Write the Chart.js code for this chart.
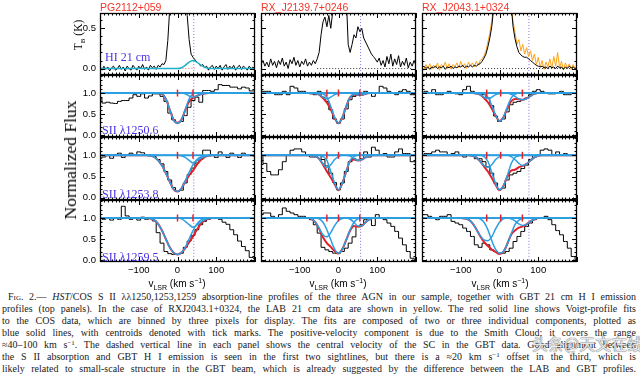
<!DOCTYPE html>
<html>
<head>
<meta charset="utf-8">
<title>S II absorption and 21 cm emission</title>
<script src="https://cdn.jsdelivr.net/npm/chart.js@4.4.1/dist/chart.umd.min.js"></script>
<style>
  html, body { margin: 0; padding: 0; background: #fff; }
  #fig { position: relative; width: 640px; height: 380px; overflow: hidden; font-family: "Liberation Sans", Arial, sans-serif; }
  #fig canvas { position: absolute; }
  .lbl { position: absolute; white-space: nowrap; line-height: 12px; z-index: 2; }
  .title { color: #f2362b; font-size: 10.5px; }
  .ion { color: #4a34e2; font-family: "Liberation Serif", serif; font-size: 12px; }
  .axt { color: #000; font-size: 10px; transform: translate(-50%, -50%); }
  .axt sub, .axt sup { font-size: 7px; line-height: 0; }
  .yt { font-family: "Liberation Serif", serif; transform: translate(-50%, -50%) rotate(-90deg); }
  .cap { position: absolute; left: 2px; top: 291px; width: 634px; font-family: "Liberation Serif", serif; font-size: 10px; line-height: 12px; color: #1a1a1a; }
  .cap div { white-space: nowrap; text-align: justify; text-align-last: justify; }
  .cap sup { font-size: 7px; line-height: 0; vertical-align: 3px; }
  .sc { font-variant: small-caps; }
  .wm { font-family: "Noto Sans CJK SC", sans-serif; font-size: 16px; color: rgba(255,255,255,0.85); text-shadow: 0 0 1px #666, 0 0 1px #666; }
</style>
</head>
<body>
<div id="fig">
  <div class="lbl title" style="left:100px;top:1px">PG2112+059</div>
  <div class="lbl title" style="left:261px;top:1px">RX_J2139.7+0246</div>
  <div class="lbl title" style="left:422px;top:1px">RX_J2043.1+0324</div>
  <div class="lbl axt yt" style="left:78px;top:35px;font-size:11.5px">T<sub>B</sub> (K)</div>
  <div class="lbl axt yt" style="left:70px;top:160px;font-size:17.5px">Normalized Flux</div>
  <div class="lbl ion" style="left:105px;top:51px">HI 21 cm</div>
  <div class="lbl ion" style="left:102px;top:124px">SII λ1250.6</div>
  <div class="lbl ion" style="left:102px;top:188px">SII λ1253.8</div>
  <div class="lbl ion" style="left:102px;top:251px">SII λ1259.5</div>
  <div class="lbl axt" style="left:177px;top:284px">v<sub>LSR</sub> (km s<sup>−1</sup>)</div>
  <div class="lbl axt" style="left:338px;top:284px">v<sub>LSR</sub> (km s<sup>−1</sup>)</div>
  <div class="lbl axt" style="left:500px;top:284px">v<sub>LSR</sub> (km s<sup>−1</sup>)</div>
  <div class="cap">
    <div style="padding-left:6px"><span class="sc">Fig.</span> 2.— <i>HST</i>/COS S II λλ1250,1253,1259 absorption-line profiles of the three AGN in our sample, together with GBT 21 cm H I emission</div>
    <div>profiles (top panels). In the case of RXJ2043.1+0324, the LAB 21 cm data are shown in yellow. The red solid line shows Voigt-profile fits</div>
    <div>to the COS data, which are binned by three pixels for display. The fits are composed of two or three individual components, plotted as</div>
    <div>blue solid lines, with centroids denoted with tick marks. The positive-velocity component is due to the Smith Cloud; it covers the range</div>
    <div>≈40–100 km s<sup>−1</sup>. The dashed vertical line in each panel shows the central velocity of the SC in the GBT data. Good alignment between</div>
    <div>the S II absorption and GBT H I emission is seen in the first two sightlines, but there is a ≈20 km s<sup>−1</sup> offset in the third, which is</div>
    <div>likely related to small-scale structure in the GBT beam, which is already suggested by the difference between the LAB and GBT profiles.</div>
  </div>
  <div class="lbl wm" style="left:532px;top:337px">头条@天文在线</div>
</div>
<script>
/* velocity grids (km/s) */
const VEL = [-200,-190,-180,-170,-160,-150,-140,-130,-120,-110,-100,-90,-80,-70,-60,-50,-40,-30,-20,-10,0,10,20,30,40,50,60,70,80,90,100,110,120,130,140,150,160,170,180,190,200]
const VEL_HI = [-200,-195,-190,-185,-180,-175,-170,-165,-160,-155,-150,-145,-140,-135,-130,-125,-120,-115,-110,-105,-100,-95,-90,-85,-80,-75,-70,-65,-60,-55,-50,-45,-40,-35,-30,-25,-20,-15,-10,-5,0,5,10,15,20,25,30,35,40,45,50,55,60,65,70,75,80,85,90,95,100,105,110,115,120,125,130,135,140,145,150,155,160,165,170,175,180,185,190,195,200]
const VEL_FIT = [-200,-100,-90,-80,-70,-60,-50,-40,-30,-20,-10,0,10,20,30,40,50,60,70,80,90,100,110,120,200]

/* GBT / LAB 21 cm brightness temperature (K) */
const HI_PG2112 = [0.01,-0.02,0.03,-0.01,0.02,-0.03,0.01,0.03,-0.02,0.0, 0.04,-0.01,0.02,-0.03,0.03,0.0,-0.02,0.04,0.01,-0.02, 0.03,0.0,0.05,-0.01,0.02,-0.02,0.04,0.01,0.03,-0.01, 0.04,0.02,0.06,0.05,0.1,0.35,0.75,1.2,1.8,2.2, 2.4,2.4,2.2,1.8,1.2,0.66,0.36,0.18,0.14,0.11, 0.08,0.06,0.03,0.05,0.01,0.03,-0.02,0.02,0.04,-0.01, 0.03,0.0,0.04,-0.02,0.02,0.05,-0.01,0.03,0.0,0.04, -0.02,0.02,0.04,-0.01,0.03,0.01,-0.02,0.03,0.0,0.02, -0.01]
const HI_PG2112_FIT = [0,0,0,0,0,0,0,0,0,0,0,0, 0.01,0.04,0.08,0.1,0.08,0.045,0.015,0.004, 0,0,0,0,0]
const HI_RX2139 = [0.05,0.1,0.03,0.08,0.02,0.12,0.04,0.09,0.01,0.1, 0.05,0.13,0.03,0.08,0.0,0.11,0.06,0.14,0.04,0.1, 0.02,0.09,0.05,0.12,0.03,0.08,0.04,0.1,0.06,0.12, 0.2,0.42,0.58,0.64,0.52,0.66,0.5,0.7,1.2,1.6, 1.8,1.8,1.6,1.3,0.9,0.3,0.2,0.3,0.42,0.38, 0.52,0.46,0.5,0.38,0.33,0.28,0.23,0.18,0.15,0.12, 0.08,0.13,0.04,0.1,0.02,0.15,0.06,0.18,0.03,0.12, 0.05,0.16,0.02,0.09,0.04,0.13,0.01,0.08,0.03,0.1, 0.04]
const HI_RX2043_GBT = [0.01,0.03,0.0,0.02,-0.01,0.02,0.01,0.03,0.0,0.02, 0.01,0.03,-0.01,0.02,0.01,0.03,0.0,0.02,0.01,0.03, 0.02,0.04,0.01,0.03,0.02,0.04,0.02,0.04,0.03,0.05, 0.06,0.09,0.13,0.18,0.27,0.38,0.52,0.75,1.2,1.8, 2.2,2.4,2.3,2.0,1.5,1.0,0.8,0.52,0.37,0.27, 0.2,0.17,0.15,0.14,0.14,0.12,0.1,0.08,0.06,0.04, 0.03,0.02,0.03,0.01,0.02,0.0,0.03,0.01,0.02,0.0, 0.03,0.01,0.02,-0.01,0.02,0.0,0.03,0.01,0.02,0.0, 0.01]
const HI_RX2043_LAB = [0.03,-0.02,0.05,0.0,0.06,-0.01,0.04,0.01,0.07,-0.02, 0.05,0.02,0.08,0.0,0.06,-0.01,0.05,0.02,0.07,0.01, 0.09,0.02,0.06,0.0,0.08,0.03,0.07,0.02,0.09,0.04, 0.1,0.12,0.16,0.22,0.33,0.44,0.6,0.82,1.3,1.9, 2.3,2.5,2.4,2.1,1.6,1.1,0.8,0.58,0.45,0.3, 0.36,0.22,0.3,0.18,0.26,0.15,0.22,0.1,0.18,0.05, 0.14,0.02,0.1,-0.01,0.08,0.02,0.12,0.0,0.15,0.03, 0.2,0.01,0.09,-0.02,0.07,0.01,0.06,-0.01,0.05,0.0, 0.04]
const HI_ZERO_FROM = [5, -55, -45]
const HI_ZERO_TO = [45, 192, 192]

/* COS normalized flux, binned */
const PG2112_1250 = [0.88,0.76,0.78,0.76,0.75,0.8,0.82,0.82,0.88,0.96,0.92,0.98,0.88,0.93,0.98,0.98,0.92,0.8,0.52,0.36,0.3,0.32,0.46,0.66,0.82,0.9,0.78,1.06,1.06,1.04,1.08,1.2,1.18,1.18,1.14,1.14,1.1,1.14,1.12,1.05,1.05]
const PG2112_1253 = [0.93,0.96,1.0,0.93,1.02,1.05,0.95,1.0,1.05,1.0,1.08,1.06,1.0,1.0,0.97,0.9,0.8,0.62,0.42,0.24,0.15,0.18,0.35,0.55,0.7,0.82,0.9,1.12,1.12,1.0,0.95,1.08,1.0,0.95,1.05,1.0,0.95,1.05,1.0,1.0,0.98]
const PG2112_1259 = [1.0,0.97,1.0,0.95,1.0,0.97,1.28,1.05,0.97,1.0,0.95,1.02,0.97,1.0,0.93,0.65,0.4,0.2,0.15,0.13,0.13,0.16,0.3,0.45,0.58,0.72,0.84,0.92,0.97,1.0,1.0,0.97,0.9,0.85,0.72,0.6,0.45,0.32,0.22,0.06,0.04]
const RX2139_1250 = [1.04,1.04,1.04,1.0,0.96,0.96,1.04,0.96,1.16,1.12,1.04,1.04,1.0,0.98,0.96,1.04,0.9,0.8,0.6,0.38,0.28,0.38,0.62,0.84,0.92,0.96,0.96,1.04,1.0,0.92,1.0,1.16,1.12,1.04,1.0,0.96,1.04,1.08,1.04,0.96,0.96]
const RX2139_1253 = [1.0,0.81,0.62,0.54,0.54,0.66,0.85,1.0,1.12,1.15,1.15,1.08,1.0,0.96,0.96,1.0,0.9,0.75,0.58,0.36,0.19,0.35,0.62,0.85,0.92,0.88,0.92,1.08,0.96,1.19,1.12,1.0,1.04,0.96,0.96,1.08,1.15,1.04,1.04,0.85,0.85]
const RX2139_1259 = [1.08,1.12,1.12,1.04,1.0,1.08,1.24,1.16,1.12,1.08,1.04,1.04,1.0,0.96,0.84,0.64,0.3,0.24,0.2,0.16,0.16,0.2,0.28,0.4,0.55,0.8,0.84,0.96,0.96,0.82,1.08,1.0,0.96,0.88,0.8,0.68,0.52,0.36,0.2,0.04,0.0]
const RX2043_1250 = [1.0,1.04,1.0,1.08,0.96,0.96,1.0,1.04,1.0,0.98,0.96,1.08,1.16,1.04,1.0,0.98,0.96,0.88,0.7,0.45,0.32,0.38,0.55,0.72,0.78,0.8,0.84,0.88,0.96,1.04,1.08,1.04,1.0,0.98,0.98,1.0,1.04,0.96,0.96,1.0,1.0]
const RX2043_1253 = [1.0,1.04,1.04,1.08,1.12,1.08,1.08,1.0,1.04,1.08,1.0,0.96,1.0,1.0,0.92,0.92,0.85,0.73,0.58,0.35,0.2,0.23,0.42,0.54,0.58,0.62,0.69,0.77,0.9,1.0,1.0,1.12,1.15,1.12,1.0,1.08,1.0,1.04,1.0,1.0,1.0]
const RX2043_1259 = [1.08,1.08,1.04,1.0,0.96,1.04,1.04,1.08,0.92,0.88,0.84,0.76,0.68,0.56,0.36,0.3,0.4,0.36,0.24,0.2,0.16,0.16,0.2,0.28,0.44,0.56,0.68,0.8,0.88,0.96,1.0,1.0,1.04,0.96,0.84,0.7,0.6,0.44,0.28,0.08,0.0]

/* Voigt fit components (blue) and total fit (red), on VEL_FIT */
const PG2112_1250_COMP = [
    [1,1,1,1,1,1,1,0.98,0.86,0.6,0.36,0.28,0.36,0.6,0.86,0.98,1,1,1,1,1,1,1,1,1],
    [1,1,1,1,1,1,1,1,1,1,1,1,1,0.98,0.93,0.9,0.93,0.97,0.99,1,1,1,1,1,1]]
const PG2112_1250_FIT = [1,1,1,1,1,1,1,0.98,0.86,0.6,0.36,0.28,0.36,0.59,0.8,0.88,0.93,0.97,0.99,1,1,1,1,1,1]
const PG2112_1253_COMP = [
    [1,1,1,1,0.99,0.96,0.88,0.76,0.58,0.38,0.2,0.15,0.22,0.4,0.6,0.78,0.9,0.96,0.99,1,1,1,1,1,1],
    [1,1,1,1,1,1,1,1,1,1,1,1,0.99,0.95,0.88,0.82,0.87,0.93,0.97,0.99,1,1,1,1,1]]
const PG2112_1253_FIT = [1,1,1,1,0.99,0.96,0.88,0.76,0.58,0.38,0.2,0.15,0.22,0.38,0.53,0.64,0.78,0.89,0.96,0.99,1,1,1,1,1]
const PG2112_1259_COMP = [
    [1,1,1,1,0.99,0.95,0.86,0.7,0.5,0.3,0.17,0.13,0.17,0.3,0.5,0.7,0.86,0.95,0.99,1,1,1,1,1,1],
    [1,1,1,1,1,1,1,1,1,1,1,1,0.98,0.92,0.84,0.78,0.83,0.9,0.96,0.99,1,1,1,1,1]]
const PG2112_1259_FIT = [1,1,1,1,0.99,0.95,0.86,0.7,0.5,0.3,0.17,0.13,0.17,0.28,0.42,0.56,0.72,0.86,0.95,0.99,1,1,1,1,1]
const RX2139_1250_COMP = [
    [1,1,1,1,1,0.99,0.96,0.9,0.86,0.9,0.96,0.99,1,1,1,1,1,1,1,1,1,1,1,1,1],
    [1,1,1,1,1,1,1,0.98,0.9,0.68,0.42,0.28,0.42,0.68,0.9,0.98,1,1,1,1,1,1,1,1,1],
    [1,1,1,1,1,1,1,1,1,1,1,1,1,1,1,0.98,0.95,0.95,0.98,1,1,1,1,1,1]]
const RX2139_1250_FIT = [1,1,1,1,1,0.99,0.96,0.88,0.77,0.61,0.4,0.28,0.42,0.68,0.9,0.96,0.95,0.95,0.98,1,1,1,1,1,1]
const RX2139_1253_COMP = [
    [1,1,1,1,1,0.98,0.92,0.8,0.71,0.78,0.9,0.97,1,1,1,1,1,1,1,1,1,1,1,1,1],
    [1,1,1,1,1,1,1,0.97,0.88,0.62,0.35,0.19,0.35,0.62,0.88,0.97,1,1,1,1,1,1,1,1,1],
    [1,1,1,1,1,1,1,1,1,1,1,1,1,1,0.98,0.93,0.88,0.9,0.95,0.99,1,1,1,1,1]]
const RX2139_1253_FIT = [1,1,1,1,1,0.98,0.92,0.78,0.62,0.48,0.32,0.18,0.35,0.62,0.86,0.9,0.88,0.9,0.95,0.99,1,1,1,1,1]
const RX2139_1259_COMP = [
    [1,1,1,1,0.98,0.9,0.76,0.6,0.55,0.65,0.82,0.94,0.99,1,1,1,1,1,1,1,1,1,1,1,1],
    [1,1,1,1,1,1,0.98,0.9,0.72,0.48,0.26,0.16,0.26,0.48,0.72,0.9,0.98,1,1,1,1,1,1,1,1],
    [1,1,1,1,1,1,1,1,1,1,1,1,1,1,0.97,0.9,0.81,0.81,0.9,0.97,1,1,1,1,1]]
const RX2139_1259_FIT = [1,1,1,1,0.98,0.9,0.74,0.54,0.4,0.31,0.21,0.15,0.26,0.48,0.7,0.81,0.79,0.81,0.9,0.97,1,1,1,1,1]
const RX2043_1250_COMP = [
    [1,1,1,1,1,0.99,0.96,0.9,0.87,0.9,0.96,0.99,1,1,1,1,1,1,1,1,1,1,1,1,1],
    [1,1,1,1,1,1,1,0.98,0.9,0.7,0.48,0.33,0.42,0.66,0.88,0.97,1,1,1,1,1,1,1,1,1],
    [1,1,1,1,1,1,1,1,1,1,1,1,1,1,0.97,0.92,0.86,0.84,0.87,0.93,0.98,1,1,1,1]]
const RX2043_1250_FIT = [1,1,1,1,1,0.99,0.96,0.88,0.78,0.63,0.46,0.33,0.42,0.63,0.8,0.86,0.85,0.84,0.87,0.93,0.98,1,1,1,1]
const RX2043_1253_COMP = [
    [1,1,1,1,0.99,0.95,0.86,0.76,0.72,0.78,0.9,0.97,1,1,1,1,1,1,1,1,1,1,1,1,1],
    [1,1,1,1,1,1,1,0.97,0.86,0.6,0.34,0.19,0.28,0.52,0.8,0.95,0.99,1,1,1,1,1,1,1,1],
    [1,1,1,1,1,1,1,1,1,1,1,1,1,1,0.97,0.9,0.81,0.76,0.8,0.88,0.95,0.99,1,1,1]]
const RX2043_1253_FIT = [1,1,1,1,0.99,0.95,0.86,0.74,0.62,0.47,0.31,0.18,0.28,0.5,0.64,0.66,0.72,0.75,0.8,0.88,0.95,0.99,1,1,1]
const RX2043_1259_COMP = [
    [1,1,0.99,0.96,0.88,0.74,0.58,0.48,0.46,0.55,0.74,0.9,0.98,1,1,1,1,1,1,1,1,1,1,1,1],
    [1,1,1,1,1,1,0.98,0.9,0.72,0.46,0.25,0.16,0.2,0.38,0.62,0.84,0.95,0.99,1,1,1,1,1,1,1],
    [1,1,1,1,1,1,1,1,1,1,1,1,1,1,0.98,0.93,0.86,0.82,0.85,0.92,0.97,1,1,1,1]]
const RX2043_1259_FIT = [1,1,0.99,0.96,0.88,0.74,0.57,0.43,0.33,0.25,0.19,0.14,0.19,0.38,0.6,0.7,0.77,0.8,0.85,0.92,0.97,1,1,1,1]

/* component centroids, Smith Cloud velocity in the GBT data */
const CENTROIDS = [[0, 40], [-30, 0, 55], [-33, 3, 59]]
const SC_VEL = [42, 57, 76]
const CONTINUUM = 1.0

/* panel boxes on the page */
const COL_LEFT = [100, 261, 422]
const COL_W = 155
const ROW_TOP = [13, 75, 137, 200]
const ROW_H = [62, 62, 63, 62]

const BLACK = '#000000', BLUE = '#2c9fe2', RED = '#e2212b', CYAN = '#1eb0c9', ORANGE = '#ffa216', PURPLE = '#8f6cd8'
const fig = document.getElementById('fig')

const idl_axes = {
    id: 'idl_axes',
    afterDraw(chart) {
    /* IDL style frame with inward ticks on all four sides */
        const ctx = chart.ctx, a = chart.chartArea
        const xs = chart.scales.x, ys = chart.scales.y
        ctx.save()
        ctx.strokeStyle = '#000'
        ctx.lineWidth = 1
        ctx.beginPath()
        for (let k = -20; k <= 20; k++) {
            const px = Math.round(xs.getPixelForValue(k * 10)) + 0.5
            const len = k % 10 === 0 ? 5 : 2.5
            ctx.moveTo(px, a.bottom); ctx.lineTo(px, a.bottom - len)
            ctx.moveTo(px, a.top); ctx.lineTo(px, a.top + len)
        }
        for (let k = Math.ceil(ys.min * 10); k <= Math.floor(ys.max * 10); k++) {
            const py = Math.round(ys.getPixelForValue(k / 10)) + 0.5
            const len = k % 5 === 0 ? 5 : 2.5
            ctx.moveTo(a.left, py); ctx.lineTo(a.left + len, py)
            ctx.moveTo(a.right, py); ctx.lineTo(a.right - len, py)
        }
        ctx.stroke()
        ctx.lineWidth = 1.3
        ctx.strokeRect(a.left + 0.5, a.top + 0.5, a.right - a.left - 1, a.bottom - a.top - 1)
        ctx.restore()
    }
}

function pts(xs, ys) {
    return ys.map((y, i) => ({ x: xs[i], y: y }))
}
function line_set(xs, ys, color, width, order, extra) {
    return Object.assign({ data: pts(xs, ys), borderColor: color, borderWidth: width, order: order, clip: 0 }, extra || {})
}
function vline_set(v) {
    return { data: [{ x: v, y: -1 }, { x: v, y: 3 }], borderColor: PURPLE, borderWidth: 1, borderDash: [1, 2], order: 6, clip: 0 }
}

function panel_chart(col, row, datasets, y_min, y_max, y_ticks) {
    const show_y = col === 0
    const show_x = row === 3
    const pad_l = show_y ? 44 : 14, pad_t = 14, pad_r = 14, pad_b = show_x ? 40 : 14
    const canvas = document.createElement('canvas')
    canvas.width = COL_W + pad_l + pad_r
    canvas.height = ROW_H[row] + pad_t + pad_b
    canvas.style.left = (COL_LEFT[col] - pad_l) + 'px'
    canvas.style.top = (ROW_TOP[row] - pad_t) + 'px'
    fig.appendChild(canvas)
    const tick_font = { family: 'Liberation Sans', size: 9.5 }
    const chart = new Chart(canvas, {
        type: 'line',
        data: { datasets: datasets },
        options: {
            responsive: false,
            animation: false,
            devicePixelRatio: 1,
            events: [],
            layout: { autoPadding: false, padding: { left: show_y ? pad_l - 30 : pad_l, top: pad_t, right: pad_r, bottom: show_x ? pad_b - 22 : pad_b } },
            plugins: { legend: { display: false }, tooltip: { enabled: false } },
            elements: { point: { radius: 0 }, line: { tension: 0 } },
            scales: {
                x: {
                    type: 'linear', min: -200, max: 200, display: show_x,
                    grid: { display: false, drawTicks: false }, border: { display: false },
                    afterFit(s) { if (show_x) s.height = 22 },
                    afterBuildTicks(s) { s.ticks = [-100, 0, 100].map(v => ({ value: v })) },
                    ticks: { padding: 3, color: '#000', font: tick_font, maxRotation: 0, callback: v => v < 0 ? '\u2212' + (-v) : '' + v }
                },
                y: {
                    type: 'linear', min: y_min, max: y_max, display: show_y,
                    grid: { display: false, drawTicks: false }, border: { display: false },
                    afterFit(s) { if (show_y) s.width = 30 },
                    afterBuildTicks(s) { s.ticks = y_ticks.map(v => ({ value: v })) },
                    ticks: { padding: 4, color: '#000', font: tick_font, autoSkip: false, callback: v => Number(v).toFixed(1) }
                }
            }
        },
        plugins: [idl_axes]
    })
    /* nudge the canvas so the plot area sits exactly on the panel box */
    const area = chart.chartArea
    canvas.style.left = (COL_LEFT[col] - area.left) + 'px'
    canvas.style.top = (ROW_TOP[row] - area.top) + 'px'
    return chart
}

/* top row: 21 cm emission */
const HI_SETS = [
    [line_set(VEL_HI, HI_PG2112, BLACK, 1, 3), line_set(VEL_FIT, HI_PG2112_FIT, CYAN, 1.5, 1, { cubicInterpolationMode: 'monotone' })],
    [line_set(VEL_HI, HI_RX2139, BLACK, 1, 3)],
    [line_set(VEL_HI, HI_RX2043_GBT, BLACK, 1, 3), line_set(VEL_HI, HI_RX2043_LAB, ORANGE, 1, 4)]
]
HI_SETS.forEach((sets, c) => {
    sets.push({ data: [{ x: HI_ZERO_FROM[c], y: 0 }, { x: HI_ZERO_TO[c], y: 0 }], borderColor: c === 0 ? '#e06a78' : '#333', borderWidth: 1, borderDash: [1, 2], order: 2, clip: 0 })
    sets.push(vline_set(SC_VEL[c]))
    panel_chart(c, 0, sets, -0.08, 0.69, [0, 0.5])
})

/* rows 2-4: S II absorption */
const FLUX = [[PG2112_1250, PG2112_1253, PG2112_1259], [RX2139_1250, RX2139_1253, RX2139_1259], [RX2043_1250, RX2043_1253, RX2043_1259]]
const COMPS = [[PG2112_1250_COMP, PG2112_1253_COMP, PG2112_1259_COMP], [RX2139_1250_COMP, RX2139_1253_COMP, RX2139_1259_COMP], [RX2043_1250_COMP, RX2043_1253_COMP, RX2043_1259_COMP]]
const FITS = [[PG2112_1250_FIT, PG2112_1253_FIT, PG2112_1259_FIT], [RX2139_1250_FIT, RX2139_1253_FIT, RX2139_1259_FIT], [RX2043_1250_FIT, RX2043_1253_FIT, RX2043_1259_FIT]]

for (let c = 0; c < 3; c++) {
    for (let r = 0; r < 3; r++) {
        const sets = []
        sets.push({ data: CENTROIDS[c].map(v => ({ x: v, y: CONTINUUM })), showLine: false, pointRadius: 3.5, pointStyle: 'line', pointRotation: 90, pointBorderColor: RED, pointBorderWidth: 1.5, order: 0 })
        sets.push({ data: [{ x: -200, y: CONTINUUM }, { x: 200, y: CONTINUUM }], borderColor: BLUE, borderWidth: 2, order: 1, clip: 0 })
        COMPS[c][r].forEach(comp => sets.push(line_set(VEL_FIT, comp, BLUE, 1.5, 1, { cubicInterpolationMode: 'monotone' })))
        sets.push(line_set(VEL_FIT, FITS[c][r], RED, 2, 2, { cubicInterpolationMode: 'monotone' }))
        sets.push(line_set(VEL, FLUX[c][r], BLACK, 1, 3, { stepped: 'middle' }))
        sets.push(vline_set(SC_VEL[c]))
        panel_chart(c, r + 1, sets, -0.05, 1.43, [0, 0.5, 1])
    }
}
</script>
</body>
</html>
